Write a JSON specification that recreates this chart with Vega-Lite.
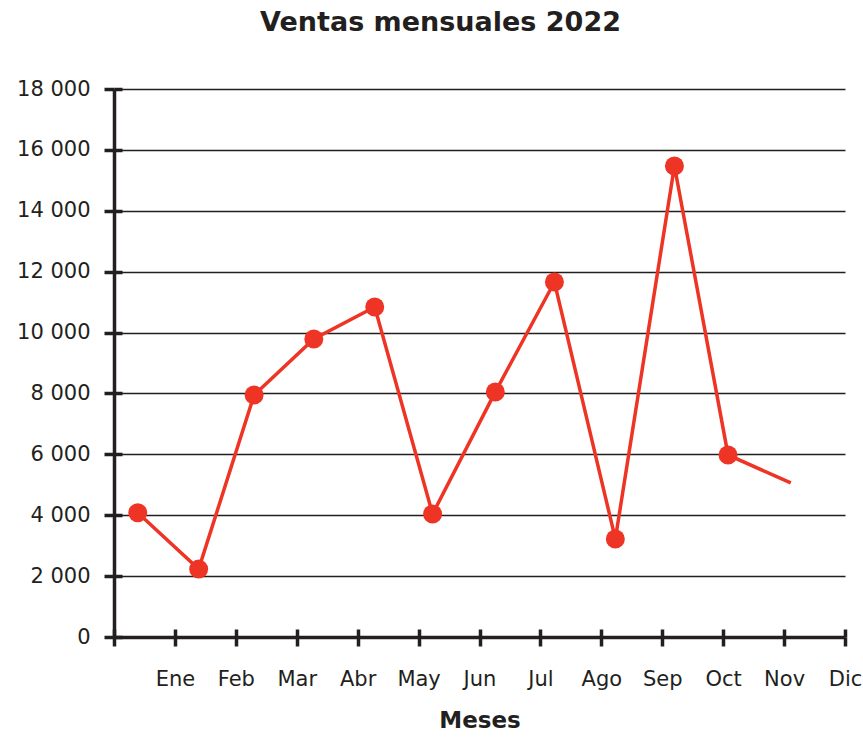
{
  "$schema": "https://vega.github.io/schema/vega-lite/v6.json",
  "width": 731,
  "height": 548,
  "autosize": {"type": "none"},
  "padding": {"left": 114, "top": 89, "right": 18, "bottom": 100},
  "background": "white",
  "title": {
    "text": "Ventas mensuales 2022",
    "font": "DejaVu Sans",
    "fontSize": 27,
    "fontWeight": "bold",
    "color": "#231f20",
    "anchor": "middle",
    "dx": -39,
    "offset": 41
  },
  "config": {
    "view": {"stroke": null},
    "axis": {
      "labelFont": "DejaVu Sans",
      "labelFontSize": 21,
      "labelColor": "#231f20",
      "titleFont": "DejaVu Sans",
      "titleColor": "#231f20",
      "domainColor": "#231f20",
      "tickColor": "#231f20"
    }
  },
  "data": {
    "values": [
      {"pos": 0.39, "ventas": 4080},
      {"pos": 1.39, "ventas": 2230},
      {"pos": 2.30, "ventas": 7950},
      {"pos": 3.28, "ventas": 9790},
      {"pos": 4.28, "ventas": 10840},
      {"pos": 5.23, "ventas": 4040},
      {"pos": 6.26, "ventas": 8050},
      {"pos": 7.23, "ventas": 11660},
      {"pos": 8.23, "ventas": 3220},
      {"pos": 9.20, "ventas": 15470},
      {"pos": 10.08, "ventas": 5980},
      {"pos": 11.11, "ventas": 5060}
    ]
  },
  "layer": [
    {
      "mark": {"type": "line", "color": "#ee3424", "strokeWidth": 3.5},
      "encoding": {
        "x": {
          "field": "pos",
          "type": "quantitative",
          "scale": {"domain": [0, 12], "nice": false, "zero": false},
          "axis": {
            "values": [0, 1, 2, 3, 4, 5, 6, 7, 8, 9, 10, 11, 12],
            "labelExpr": "['', 'Ene', 'Feb', 'Mar', 'Abr', 'May', 'Jun', 'Jul', 'Ago', 'Sep', 'Oct', 'Nov', 'Dic'][datum.value]",
            "grid": false,
            "domainWidth": 3.5,
            "tickWidth": 3.5,
            "tickSize": 9,
            "labelPadding": 22,
            "labelFlush": false,
            "labelOverlap": false,
            "title": "Meses",
            "titleFontSize": 23,
            "titleFontWeight": "bold",
            "titlePadding": 20
          }
        },
        "y": {
          "field": "ventas",
          "type": "quantitative",
          "scale": {"domain": [0, 18000], "nice": false},
          "axis": {
            "values": [0, 2000, 4000, 6000, 8000, 10000, 12000, 14000, 16000, 18000],
            "labelExpr": "replace(format(datum.value, ','), ',', ' ')",
            "grid": true,
            "gridColor": "#231f20",
            "gridWidth": 1.5,
            "gridOpacity": 1,
            "domainWidth": 3.5,
            "tickWidth": 3.5,
            "tickSize": 10,
            "labelPadding": 14,
            "labelFlush": false,
            "title": null
          }
        }
      }
    },
    {
      "transform": [{"filter": "datum.pos < 11"}],
      "mark": {"type": "point", "filled": true, "opacity": 1, "color": "#ee3424", "size": 360},
      "encoding": {
        "x": {
          "field": "pos",
          "type": "quantitative",
          "axis": {
            "orient": "bottom",
            "values": [0, 1, 2, 3, 4, 5, 6, 7, 8, 9, 10, 11, 12],
            "labels": false,
            "domain": false,
            "grid": false,
            "tickWidth": 3.5,
            "tickSize": -8,
            "title": null
          }
        },
        "y": {
          "field": "ventas",
          "type": "quantitative",
          "axis": {
            "orient": "left",
            "values": [0, 2000, 4000, 6000, 8000, 10000, 12000, 14000, 16000, 18000],
            "labels": false,
            "domain": false,
            "grid": false,
            "tickWidth": 3.5,
            "tickSize": -8,
            "title": null
          }
        }
      }
    }
  ],
  "resolve": {"axis": {"x": "independent", "y": "independent"}}
}
